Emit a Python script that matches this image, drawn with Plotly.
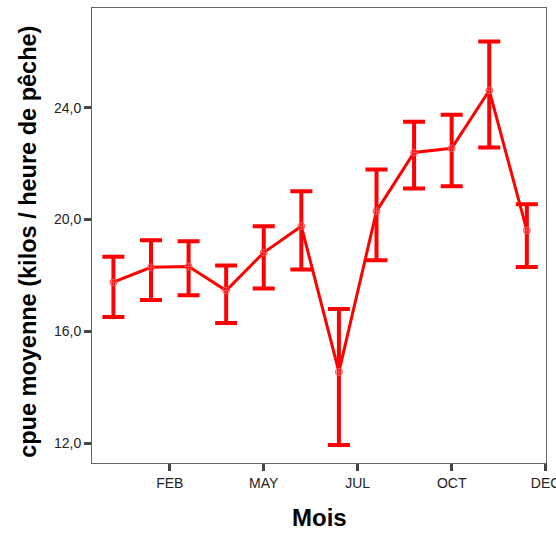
import plotly.graph_objects as go

months = list(range(1, 13))
mean_cpue = [17.76, 18.29, 18.32, 17.46, 18.82, 19.76, 14.55, 20.30, 22.40, 22.55, 24.62, 19.61]
upper_ci = [18.67, 19.26, 19.22, 18.36, 19.76, 21.01, 16.80, 21.79, 23.50, 23.75, 26.37, 20.55]
lower_ci = [16.51, 17.12, 17.29, 16.30, 17.53, 18.21, 11.93, 18.54, 21.11, 21.19, 22.58, 18.30]
x_tick_vals = [2.5, 5, 7.5, 10, 12.5]
x_tick_text = ["FEB", "MAY", "JUL", "OCT", "DEC"]
y_tick_vals = [12, 16, 20, 24]

err_plus = [u - m for u, m in zip(upper_ci, mean_cpue)]
err_minus = [m - l for m, l in zip(mean_cpue, lower_ci)]

fig = go.Figure()
fig.add_trace(go.Scatter(
    x=months, y=mean_cpue, mode="lines+markers",
    line=dict(color="#ff0000", width=3),
    marker=dict(symbol="circle-cross-open", size=7, color="#ff5050",
                line=dict(color="#ff5050", width=1)),
    error_y=dict(type="data", symmetric=False, array=err_plus, arrayminus=err_minus,
                 color="#ff0000", thickness=4, width=11),
    showlegend=False,
))

axis_common = dict(
    showline=True, linecolor="#666666", linewidth=1, mirror=True,
    showgrid=False, zeroline=False, automargin=False,
    ticks="outside", ticklen=7, tickwidth=3, tickcolor="#444444",
    ticklabeloverflow="allow",
    tickfont=dict(family="Liberation Sans, Arial, sans-serif", size=14, color="#222222"),
)

fig.update_layout(
    width=556, height=536,
    margin=dict(l=92, r=10, t=8, b=73, autoexpand=False),
    paper_bgcolor="white", plot_bgcolor="white",
    separators=", ",
    xaxis=dict(range=[0.43, 12.51], tickvals=x_tick_vals, ticktext=x_tick_text, **axis_common),
    yaxis=dict(range=[11.29, 27.57], tickvals=y_tick_vals, tickformat=".1f", **axis_common),
    annotations=[
        dict(text="<b>Mois</b>", x=0.5, y=-0.12, xref="paper", yref="paper",
             xanchor="center", yanchor="middle", showarrow=False,
             font=dict(family="Liberation Sans, Arial, sans-serif", size=24, color="black")),
        dict(text="<b>cpue moyenne (kilos / heure de pêche)</b>", x=-0.14, y=0.487,
             xref="paper", yref="paper", xanchor="center", yanchor="middle",
             textangle=-90, showarrow=False,
             font=dict(family="Liberation Sans, Arial, sans-serif", size=23.5, color="black")),
    ],
)

fig.write_html("out.html")
